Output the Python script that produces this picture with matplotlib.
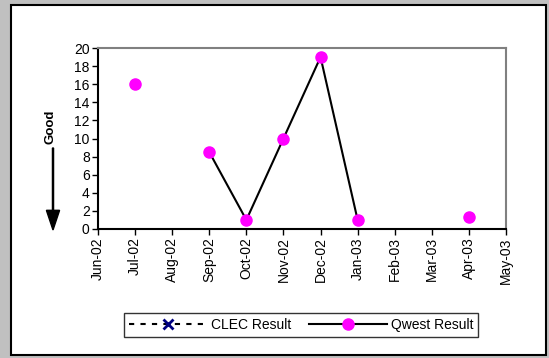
import numpy as np
import matplotlib
matplotlib.use("Agg")
import matplotlib.pyplot as plt
from matplotlib.patches import Rectangle, FancyArrow

plt.rcParams['font.family'] = ['Liberation Sans', 'DejaVu Sans']

months = ["Jun-02", "Jul-02", "Aug-02", "Sep-02", "Oct-02", "Nov-02",
          "Dec-02", "Jan-03", "Feb-03", "Mar-03", "Apr-03", "May-03"]
qwest = [np.nan, 16, np.nan, 8.5, 1, 10, 19, 1, np.nan, np.nan, 1.3, np.nan]
clec = [np.nan] * 12

fig = plt.figure(figsize=(5.49, 3.58), dpi=100)
fig.patch.set_facecolor("#c0c0c0")

# white panel with black border
fig.patches.append(Rectangle((11 / 549, 3.5 / 358), 535 / 549, 349.5 / 358,
                             transform=fig.transFigure, facecolor="white",
                             edgecolor="black", linewidth=1.5, zorder=-5))

ax = fig.add_axes([98 / 549, 129 / 358, 408 / 549, 181 / 358])
ax.set_facecolor("white")
x = np.arange(len(months))

ax.plot(x, clec, linestyle=(0, (2.5, 3)), color="black", marker="x",
        markeredgecolor="#000080", markersize=7, markeredgewidth=2,
        label="CLEC Result")
ax.plot(x, qwest, color="black", linewidth=1.5, marker="o",
        markerfacecolor="#ff00ff", markeredgecolor="#ff00ff", markersize=8,
        label="Qwest Result", clip_on=False)

ax.set_xlim(0, 11)
ax.set_ylim(0, 20)
ax.set_yticks(range(0, 21, 2))
ax.set_xticks(x)
ax.set_xticklabels(months, rotation=90)
ax.tick_params(axis="both", labelsize=10, direction="out", length=4,
               width=1, colors="black", pad=2)

for s in ["top", "right"]:
    ax.spines[s].set_color("#808080")
    ax.spines[s].set_linewidth(1.5)
for s in ["left", "bottom"]:
    ax.spines[s].set_color("black")
    ax.spines[s].set_linewidth(1.5)

fig.text(50 / 549, 1 - 127 / 358, "Good", rotation=90, fontsize=9.5,
         fontweight="bold", ha="center", va="center")
fig.patches.append(FancyArrow(53 / 549, 1 - 148 / 358, 0, -(82 / 358),
                              width=0.002, head_width=0.024,
                              head_length=0.055, length_includes_head=True,
                              transform=fig.transFigure, color="black"))

leg = fig.legend(loc="center", bbox_to_anchor=(301 / 549, 1 - 325 / 358),
                 ncol=2, fontsize=10, frameon=True, fancybox=False,
                 handlelength=5.6, columnspacing=1.3, handletextpad=0.3,
                 borderpad=0.35)
leg.get_frame().set_edgecolor("black")
leg.get_frame().set_linewidth(1)

fig.savefig("out.png", dpi=100, facecolor=fig.get_facecolor())
